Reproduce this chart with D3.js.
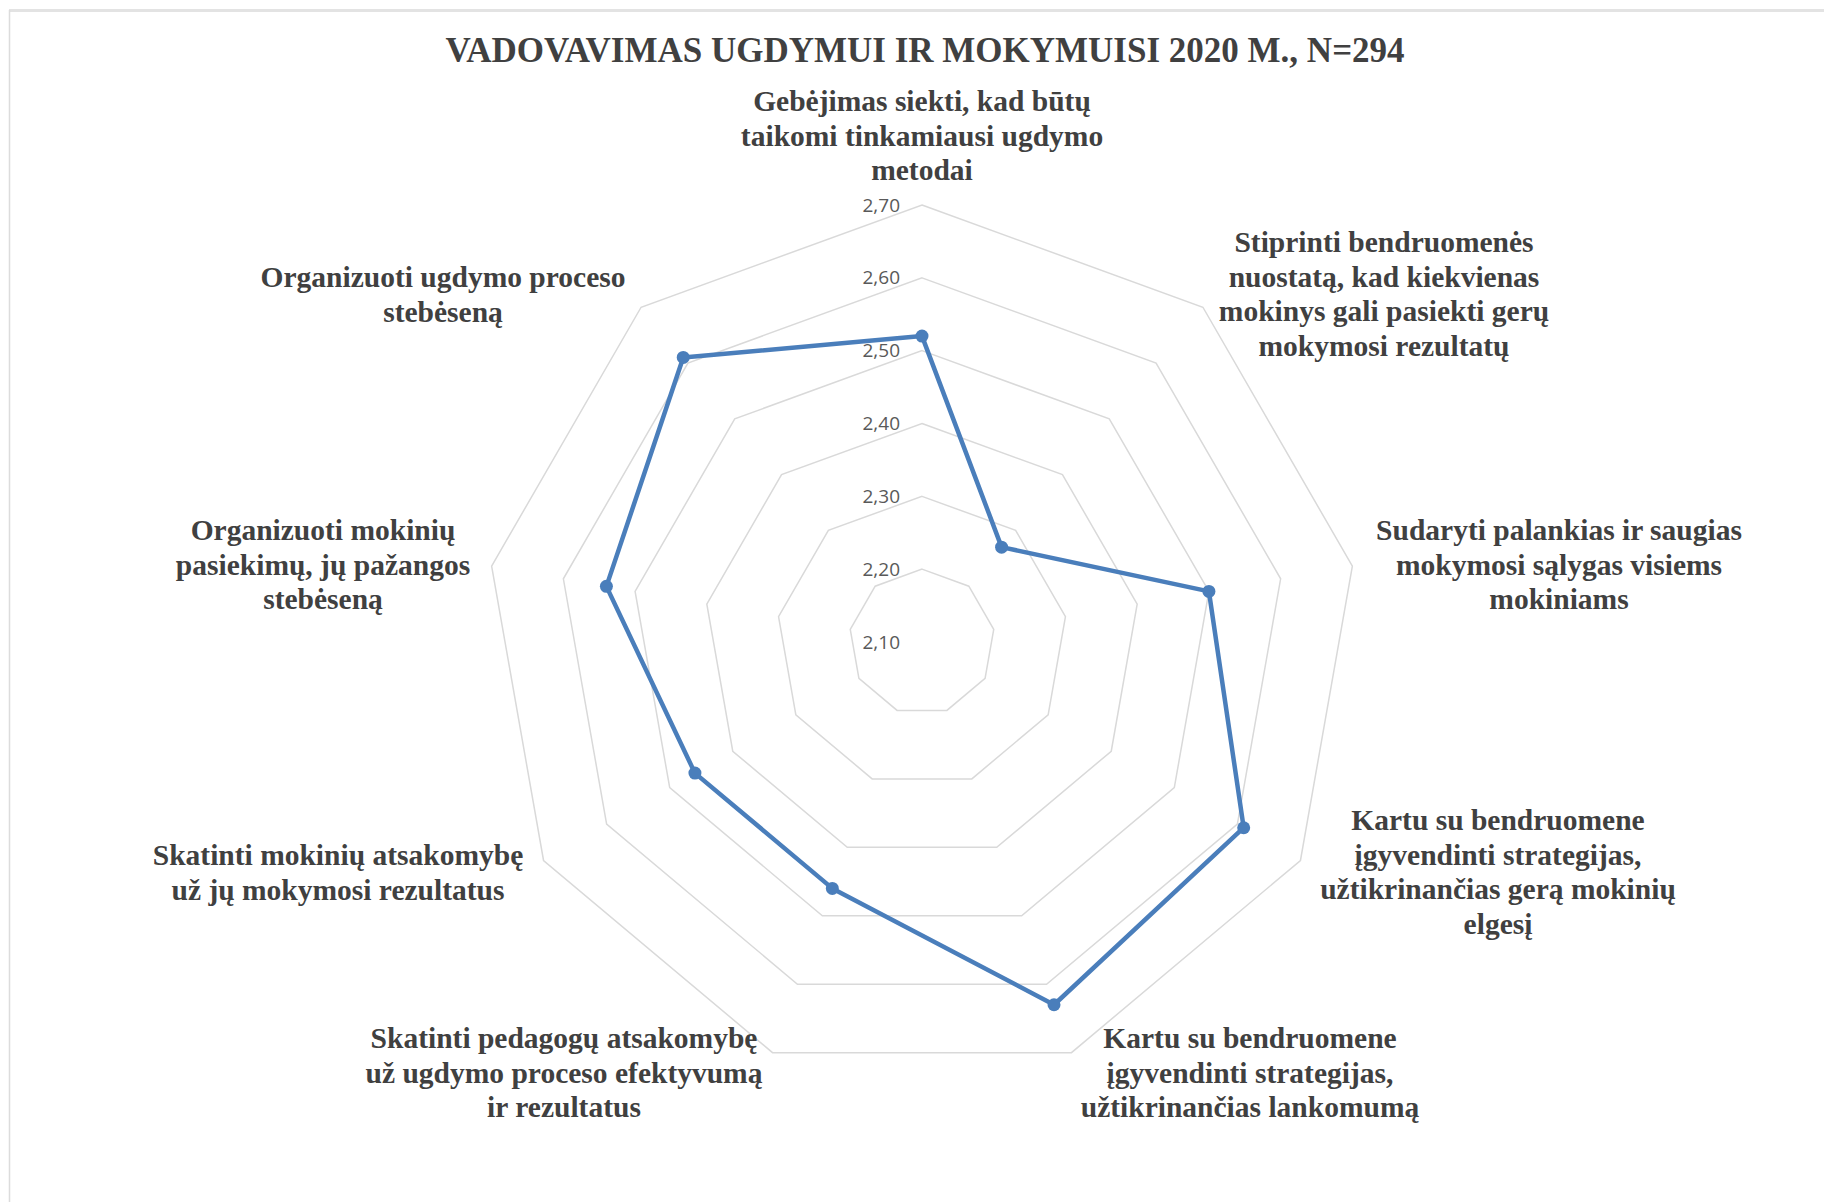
<!DOCTYPE html>
<html>
<head>
<meta charset="utf-8">
<script src="https://cdn.jsdelivr.net/npm/d3@7"></script>
<style>
  body { margin: 0; background: #fff; }
  svg { display: block; }
</style>
</head>
<body>
<script>
"use strict";

let width = 1824;
let height = 1202;

// data
let categories = [
  ["Gebėjimas siekti, kad būtų", "taikomi tinkamiausi ugdymo", "metodai"],
  ["Stiprinti bendruomenės", "nuostatą, kad kiekvienas", "mokinys gali pasiekti gerų", "mokymosi rezultatų"],
  ["Sudaryti palankias ir saugias", "mokymosi sąlygas visiems", "mokiniams"],
  ["Kartu su bendruomene", "įgyvendinti strategijas,", "užtikrinančias gerą mokinių", "elgesį"],
  ["Kartu su bendruomene", "įgyvendinti strategijas,", "užtikrinančias lankomumą"],
  ["Skatinti pedagogų atsakomybę", "už ugdymo proceso efektyvumą", "ir rezultatus"],
  ["Skatinti mokinių atsakomybę", "už jų mokymosi rezultatus"],
  ["Organizuoti mokinių", "pasiekimų, jų pažangos", "stebėseną"],
  ["Organizuoti ugdymo proceso", "stebėseną"]
];
let values = [2.52, 2.27, 2.50, 2.61, 2.63, 2.46, 2.46, 2.54, 2.61];
let ticks = [2.10, 2.20, 2.30, 2.40, 2.50, 2.60, 2.70];
let title = "VADOVAVIMAS UGDYMUI IR MOKYMUISI 2020 M., N=294";

// label anchor points (center of first line)
let labelPos = [
  [922, 101], [1384, 242], [1559, 530], [1498, 820], [1250, 1038],
  [564, 1038], [338, 855], [323, 530], [443, 277]
];

let cx = 922, cy = 642;
let rMax = 437;

let svg = d3.select("body").append("svg").attr("width", width).attr("height", height);

// frame
svg.append("line").attr("x1", 9).attr("x2", width).attr("y1", 10.5).attr("y2", 10.5)
  .attr("stroke", "#e3e3e3").attr("stroke-width", 3);
svg.append("line").attr("x1", 9.5).attr("x2", 9.5).attr("y1", 10).attr("y2", height)
  .attr("stroke", "#dcdcdc").attr("stroke-width", 1.5);

let r = d3.scaleLinear().domain([2.10, 2.70]).range([0, rMax]);
let angle = d3.scaleLinear().domain([0, categories.length]).range([0, 2 * Math.PI]);

function pt(i, v) {
  let a = angle(i);
  return [cx + r(v) * Math.sin(a), cy - r(v) * Math.cos(a)];
}

let g = svg.append("g");

// rings
g.selectAll("path.ring")
  .data(ticks.slice(1))
  .enter()
  .append("path")
  .attr("class", "ring")
  .attr("fill", "none")
  .attr("stroke", "#d9d9d9")
  .attr("stroke-width", 1.5)
  .attr("d", t => d3.line()(categories.map((c, i) => pt(i, t))) + "Z");

// tick labels
g.selectAll("text.tick")
  .data(ticks)
  .enter()
  .append("text")
  .attr("class", "tick")
  .attr("x", cx - 22)
  .attr("y", t => cy - r(t))
  .attr("dy", "0.35em")
  .attr("text-anchor", "end")
  .attr("font-family", "'Open Sans', 'Liberation Sans', sans-serif")
  .attr("font-size", 19)
  .attr("fill", "#595959")
  .text(t => d3.format(".2f")(t).replace(".", ","));

// series
let series = values.map((v, i) => pt(i, v));
g.append("path")
  .attr("fill", "none")
  .attr("stroke", "#4a7ebb")
  .attr("stroke-width", 4.5)
  .attr("stroke-linejoin", "round")
  .attr("d", d3.line()(series) + "Z");

g.selectAll("circle")
  .data(series)
  .enter()
  .append("circle")
  .attr("cx", d => d[0])
  .attr("cy", d => d[1])
  .attr("r", 6.5)
  .attr("fill", "#4a7ebb");

// title
svg.append("text")
  .attr("x", 925)
  .attr("y", 50)
  .attr("dy", "0.35em")
  .attr("text-anchor", "middle")
  .attr("font-family", "'Liberation Serif', serif")
  .attr("font-weight", "bold")
  .attr("font-size", 35)
  .attr("fill", "#404040")
  .text(title);

// category labels
categories.forEach(function (lines, i) {
  let t = svg.append("text")
    .attr("text-anchor", "middle")
    .attr("font-family", "'Liberation Serif', serif")
    .attr("font-weight", "bold")
    .attr("font-size", 29.5)
    .attr("fill", "#404040");
  lines.forEach(function (line, j) {
    t.append("tspan")
      .attr("x", labelPos[i][0])
      .attr("y", labelPos[i][1] + j * 34.5)
      .attr("dy", "0.35em")
      .text(line);
  });
});
</script>
</body>
</html>
